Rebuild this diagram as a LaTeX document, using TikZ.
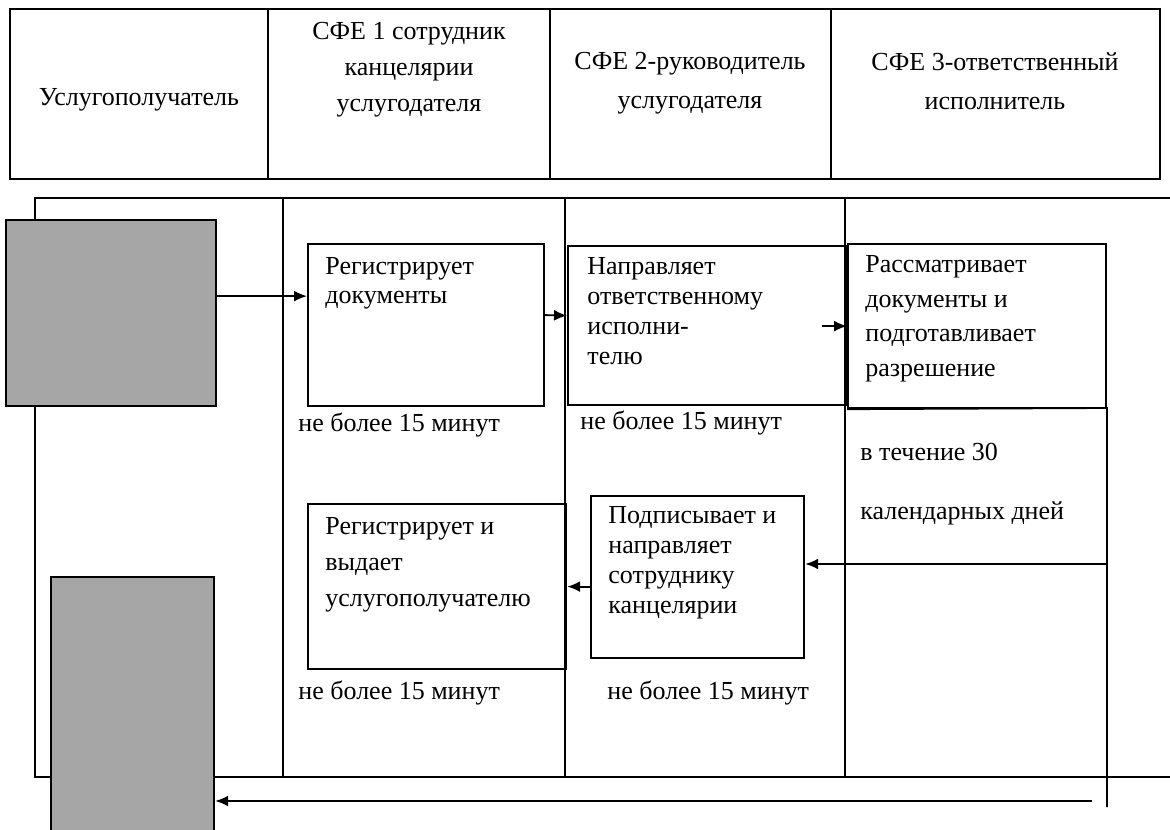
\documentclass[tikz,border=0pt]{standalone}
\usepackage{fontspec}
\setmainfont{Liberation Serif}
\usetikzlibrary{arrows.meta}

\definecolor{boxgray}{HTML}{A6A6A6}
\newcommand{\txtsize}[1]{\fontsize{13}{#1}\selectfont}

\tikzset{
    hdr/.style={line width=1.4pt},
    lane/.style={line width=0.9pt},
    cell/.style={draw, line width=1.1pt, inner sep=0pt, anchor=north west},
    gbox/.style={cell, fill=boxgray},
    txt/.style={inner sep=0pt, align=left, anchor=north west, font=\txtsize{15}},
    arr/.style={line width=0.9pt, -{Latex[length=6.5pt,width=5.5pt]}}
}

\begin{document}
\begin{tikzpicture}[x=0.5pt,y=-0.5pt]

        \useasboundingbox (0,0) rectangle (1170,829);

        \draw[hdr] (10,9) rectangle (1160,179);
        \foreach \x in {268,550,831}
            \draw[hdr] (\x,9) -- (\x,179);
        \node[txt, anchor=center, align=center] (h1) at (139,100) {Услугополучатель};
        \node[txt, anchor=north, align=center, font=\txtsize{18}] (h2) at (409,22) {СФЕ 1 сотрудник\\канцелярии\\услугодателя};
        \node[txt, anchor=north, align=center, font=\txtsize{19.5}] (h3) at (690,52) {СФЕ 2-руководитель\\услугодателя};
        \node[txt, anchor=north, align=center, font=\txtsize{19.5}] (h4) at (995,52) {СФЕ 3-ответственный\\исполнитель};

        \draw[lane] (1170,198) -- (35,198) -- (35,777) -- (1170,777);
        \foreach \x in {283,565,845}
            \draw[lane] (\x,198) -- (\x,777);

        \node[gbox, minimum width=105pt, minimum height=93pt] (src) at (5,219) {};
        \node[gbox, minimum width=81.5pt, minimum height=135pt] (dst) at (50,576) {};

        \node[cell, minimum width=118pt, minimum height=81pt] (reg) at (307,243) {};
        \node[txt, font=\txtsize{14.5}] (regt) at (325,257) {Регистрирует\\документы};
        \node[txt, anchor=west] (t1) at (298,425) {не более 15 минут};

        \node[cell, minimum width=139.5pt, minimum height=79.5pt] (napr) at (567,245) {};
        \node[txt] (naprt) at (587,257) {Направляет\\ответственному\\исполни-\\телю};
        \node[txt, anchor=west] (t2) at (580,423) {не более 15 минут};

        \node[cell, minimum width=129pt, minimum height=82pt] (rass) at (847,243) {};
        \node[txt, font=\txtsize{17.3}] (rasst) at (865,255) {Рассматривает\\документы и\\подготавливает\\разрешение};
        \node[txt, anchor=west] (t5) at (860,452) {в течение 30};
        \node[txt, anchor=west] (t6) at (860,513) {календарных дней};

        \node[cell, minimum width=106.5pt, minimum height=81pt] (podp) at (590,495) {};
        \node[txt] (podpt) at (608,506) {Подписывает и\\направляет\\сотруднику\\канцелярии};
        \node[txt, anchor=west] (t4) at (607,693) {не более 15 минут};

        \node[cell, minimum width=129pt, minimum height=82.5pt] (vyd) at (307,503) {};
        \node[txt, font=\txtsize{18}] (vydt) at (325,517) {Регистрирует и\\выдает\\услугополучателю};
        \node[txt, anchor=west] (t3) at (298,693) {не более 15 минут};

        \coordinate (rtop) at (1107,408);
        \coordinate (rbot) at (1107,807);
        \coordinate (r1) at (1107,564);
        \coordinate (r2) at (1092,801);
        \draw[lane] (rass.south west) -- (rtop) -- (rbot);

        \draw[arr] ([yshift=8.5pt]src.east) -- ([yshift=14.5pt]reg.west);
        \draw[arr] ([yshift=5pt]reg.east) -- ([yshift=5pt]napr.west);
        \draw[arr] ([xshift=-12.5pt]rass.west) -- (rass.west);
        \draw[arr] (r1) -- (r1 -| podp.east);
        \draw[arr] (podp.west |- vyd.east) -- (vyd.east);
        \draw[arr] (r2) -- (r2 -| dst.east);

\end{tikzpicture}
\end{document}
